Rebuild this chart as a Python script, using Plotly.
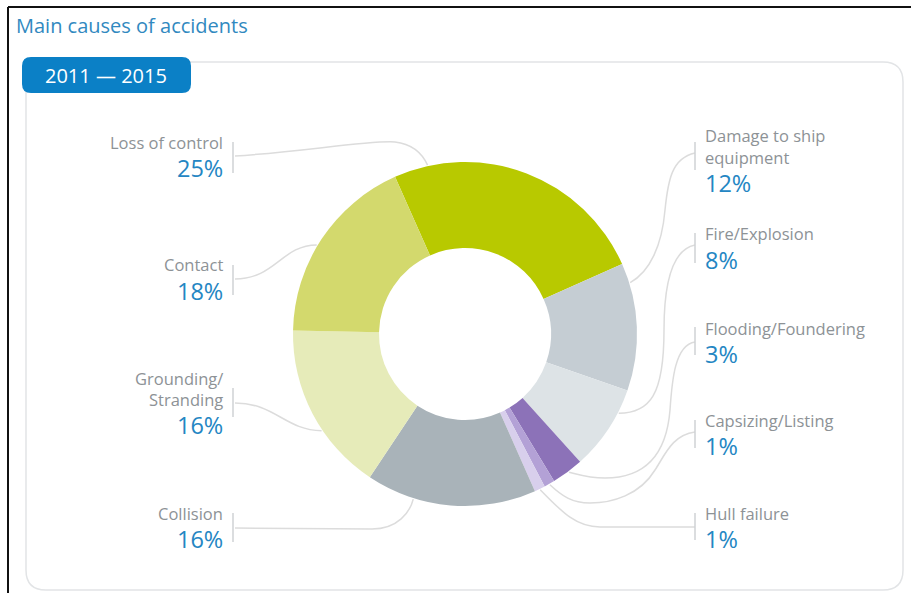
import math
import plotly.graph_objects as go

W, H = 911, 593

# ---------------- data ----------------
categories = ["Loss of control", "Damage to ship equipment", "Fire/Explosion",
              "Flooding/Foundering", "Capsizing/Listing", "Hull failure",
              "Collision", "Grounding/Stranding", "Contact"]
values = [25, 12, 8, 3, 1, 1, 16, 16, 18]
pct_labels = ["25%", "12%", "8%", "3%", "1%", "1%", "16%", "16%", "18%"]
label_lines = [["Loss of control"], ["Damage to ship", "equipment"], ["Fire/Explosion"],
               ["Flooding/Foundering"], ["Capsizing/Listing"], ["Hull failure"],
               ["Collision"], ["Grounding/", "Stranding"], ["Contact"]]
colors = ["#b8c900", "#c5cdd3", "#dde3e6", "#8c72b8", "#b3a1d6", "#d8cfec",
          "#a9b3b9", "#e6ebb9", "#d3d96d"]

# ---------------- layout helpers ----------------
CX, CY, R = 465, 334, 172
GRAY_TXT = "#8d9296"
BLUE_TXT = "#2486c3"
LINE_C = "#dcdcdc"
FONT = "Open Sans"


def px(x, y):
    return f"{x / W:.5f},{1 - y / H:.5f}"


def ring_pt(angle_deg, r=R + 1):
    a = math.radians(angle_deg)
    return CX + r * math.sin(a), CY - r * math.cos(a)


def rrect(x0, y0, x1, y1, r):
    return (f"M{px(x0 + r, y0)} L{px(x1 - r, y0)} Q{px(x1, y0)} {px(x1, y0 + r)} "
            f"L{px(x1, y1 - r)} Q{px(x1, y1)} {px(x1 - r, y1)} "
            f"L{px(x0 + r, y1)} Q{px(x0, y1)} {px(x0, y1 - r)} "
            f"L{px(x0, y0 + r)} Q{px(x0, y0)} {px(x0 + r, y0)} Z")


# label placement: side, text line y centres, percent y centre, bar span, attach angle
place = [
    ("L", [142], 168, (142, 173), -12.5),
    ("R", [136, 157], 183, (142, 170), 72.7),
    ("R", [234], 260, (233, 263), 117.3),
    ("R", [328], 354, (327, 355), 143.0),
    ("R", [420], 446, (420, 448), 150.6),
    ("R", [513], 539, (513, 540), 154.2),
    ("L", [513], 539, (513, 542), 197.4),
    ("L", [378, 399], 425, (388, 417), 236.0),
    ("L", [265], 291, (265, 295), 301.0),
]

# leader line routes (start at label bar, end at the ring)
routes = [
    lambda e: f"M{px(235,156)} C{px(300,152)} {px(370,140)} {px(395,142)} C{px(412,144)} {px(422,153)} {px(*e)}",
    lambda e: f"M{px(695,153)} C{px(672,158)} {px(668,180)} {px(665,210)} C{px(662,245)} {px(650,272)} {px(*e)}",
    lambda e: f"M{px(695,245)} C{px(670,250)} {px(664,290)} {px(664,330)} C{px(664,395)} {px(650,413)} {px(*e)}",
    lambda e: f"M{px(695,342)} C{px(675,345)} {px(672,380)} {px(670,410)} C{px(666,460)} {px(640,478)} {px(605,478)} C{px(588,478)} {px(577,474)} {px(*e)}",
    lambda e: f"M{px(695,432)} C{px(672,435)} {px(665,455)} {px(655,470)} C{px(640,495)} {px(612,503)} {px(590,503)} C{px(572,503)} {px(562,496)} {px(*e)}",
    lambda e: f"M{px(695,527)} L{px(600,527)} C{px(576,527)} {px(562,512)} {px(*e)}",
    lambda e: f"M{px(235,528)} L{px(372,529)} C{px(398,529)} {px(410,512)} {px(*e)}",
    lambda e: f"M{px(235,403)} C{px(275,403)} {px(285,430)} {px(*e)}",
    lambda e: f"M{px(235,279)} C{px(275,279)} {px(282,245)} {px(*e)}",
]

fig = go.Figure()
fig.add_trace(go.Pie(
    labels=categories, values=values, sort=False, direction="clockwise",
    rotation=-24, hole=0.5, textinfo="none", hoverinfo="label+percent",
    marker=dict(colors=colors, line=dict(width=0)),
    domain=dict(x=[(CX - R) / W, (CX + R) / W], y=[1 - (CY + R) / H, 1 - (CY - R) / H]),
    showlegend=False,
))

shapes = []
# black frame edges
shapes.append(dict(type="line", xref="paper", yref="paper", x0=8 / W, x1=1, y0=1 - 7 / H, y1=1 - 7 / H,
                   line=dict(color="#111111", width=2)))
shapes.append(dict(type="line", xref="paper", yref="paper", x0=8 / W, x1=8 / W, y0=0, y1=1 - 7 / H,
                   line=dict(color="#111111", width=2)))
# panel
shapes.append(dict(type="path", xref="paper", yref="paper", path=rrect(26, 62, 903, 590, 20),
                   line=dict(color="#e2e4e6", width=1.5), fillcolor="white", layer="below"))
# badge
shapes.append(dict(type="path", xref="paper", yref="paper", path=rrect(22, 57, 191, 93, 9),
                   line=dict(width=0), fillcolor="#0b80c6", layer="above"))

annotations = [
    dict(text="Main causes of accidents", x=14 / W, y=1 - 25 / H, xref="paper", yref="paper",
         xanchor="left", yanchor="middle", showarrow=False,
         font=dict(family=FONT, size=20, color="#3189c0")),
    dict(text="2011 \u2014 2015", x=106 / W, y=1 - 75 / H, xref="paper", yref="paper",
         xanchor="center", yanchor="middle", showarrow=False,
         font=dict(family=FONT, size=20, color="white")),
]

for i, cat in enumerate(categories):
    side, ys, py, (b0, b1), ang = place[i]
    bx = 233 if side == "L" else 695
    tx = 223 if side == "L" else 705
    anchor = "right" if side == "L" else "left"
    shapes.append(dict(type="line", xref="paper", yref="paper", x0=bx / W, x1=bx / W,
                       y0=1 - b0 / H, y1=1 - b1 / H, line=dict(color="#cfd2d4", width=1.5)))
    end = ring_pt(ang)
    shapes.append(dict(type="path", xref="paper", yref="paper", path=routes[i](end),
                       line=dict(color=LINE_C, width=1.5), layer="below"))
    for line_txt, yy in zip(label_lines[i], ys):
        annotations.append(dict(text=line_txt, x=tx / W, y=1 - yy / H, xref="paper", yref="paper",
                                xanchor=anchor, yanchor="middle", showarrow=False,
                                borderpad=0, borderwidth=0,
                                font=dict(family=FONT, size=16.5, color=GRAY_TXT)))
    annotations.append(dict(text=pct_labels[i], x=tx / W, y=1 - py / H, xref="paper", yref="paper",
                            xanchor=anchor, yanchor="middle", showarrow=False,
                            borderpad=0, borderwidth=0,
                            font=dict(family=FONT, size=23.5, color=BLUE_TXT)))

fig.update_layout(
    width=W, height=H, margin=dict(l=0, r=0, t=0, b=0),
    paper_bgcolor="white", plot_bgcolor="white",
    shapes=shapes, annotations=annotations,
)

fig.write_html("out.html")
